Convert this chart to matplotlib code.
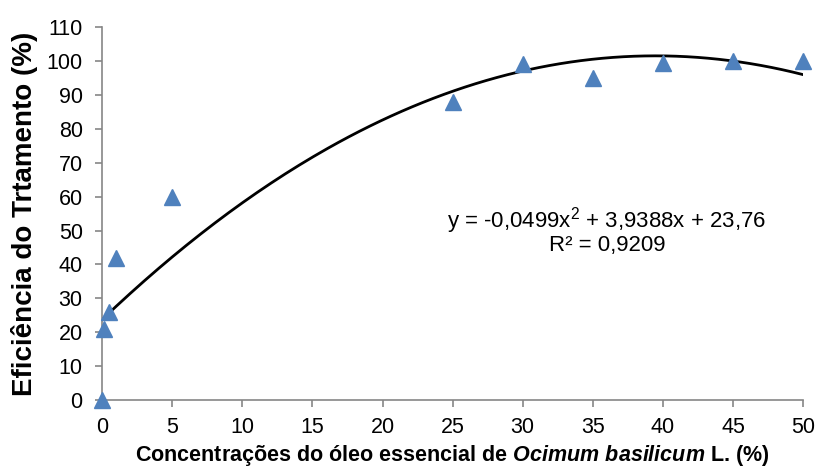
import numpy as np
import matplotlib
matplotlib.use("Agg")
import matplotlib.pyplot as plt

plt.rcParams['font.family'] = ['Liberation Sans', 'DejaVu Sans']
plt.rcParams['mathtext.fontset'] = 'custom'
plt.rcParams['mathtext.rm'] = 'Liberation Sans'
plt.rcParams['mathtext.it'] = 'Liberation Sans:italic:bold'
plt.rcParams['mathtext.bf'] = 'Liberation Sans:bold'

conc = [0, 0.1, 0.5, 1, 5, 25, 30, 35, 40, 45, 50]
efic = [0, 21, 26, 42, 60, 88, 99, 95, 99.5, 100, 100]
coef = [-0.0499, 3.9388, 23.76]
xticks = [0, 5, 10, 15, 20, 25, 30, 35, 40, 45, 50]
yticks = list(range(0, 111, 10))

fig = plt.figure(figsize=(8.17, 4.73), dpi=100)
ax = fig.add_axes([0.125, 0.154, 0.858, 0.789])

xf = np.linspace(0, 50, 200)
yf = np.polyval(coef, xf)
ax.plot(xf, yf, color='black', lw=2, zorder=2)
ax.plot(conc, efic, linestyle='none', marker='^', markersize=12,
        color='#4F81BD', markeredgecolor='#4F81BD', zorder=3, clip_on=False)

ax.set_xlim(0, 50)
ax.set_ylim(0, 110)
ax.set_xticks(xticks)
ax.set_yticks(yticks)
for s in ['top', 'right']:
    ax.spines[s].set_visible(False)
for s in ['left', 'bottom']:
    ax.spines[s].set_color('#868686')
    ax.spines[s].set_linewidth(1.2)
ax.tick_params(axis='both', colors='#868686', labelcolor='black', labelsize=15.5,
               length=5, width=1.2, direction='out')
ax.tick_params(axis='y', pad=9)
ax.tick_params(axis='x', pad=7)

ax.set_ylabel('Eficiência do Trtamento (%)', fontsize=20, fontweight='bold', labelpad=6)
ax.set_xlabel('Concentrações do óleo essencial de $\\mathit{Ocimum\\ basilicum}$ L. (%)',
              fontsize=15.5, fontweight='bold', labelpad=4)

ax.text(36, 53, 'y = -0,0499x$^2$ + 3,9388x + 23,76', ha='center', va='center', fontsize=16)
ax.text(36, 45.5, 'R² = 0,9209', ha='center', va='center', fontsize=16)

fig.savefig('out.png', dpi=100)
